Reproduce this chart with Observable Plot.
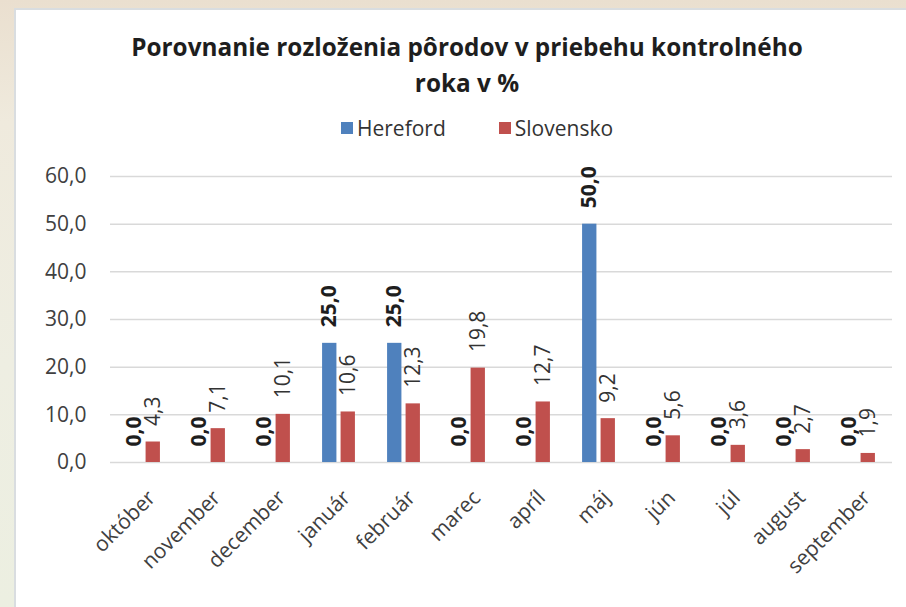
<!DOCTYPE html>
<html>
<head>
<meta charset="utf-8">
<script src="https://cdn.jsdelivr.net/npm/d3@7"></script>
<script src="https://cdn.jsdelivr.net/npm/@observablehq/plot@0.6"></script>
<style>
  html, body { margin: 0; padding: 0; }
  body {
    width: 906px; height: 607px; overflow: hidden; position: relative;
    background: linear-gradient(180deg, #eadfcf 0%, #efeadd 20%, #eeeee2 60%, #ecefe1 100%);
    font-family: "Open Sans", Lato, sans-serif;
  }
  #panel {
    position: absolute; left: 14px; top: 8px; width: 900px; height: 610px;
    background: #fff; border-left: 2px solid #d9dde0; border-top: 2px solid #d9dde0;
  }
  #title {
    position: absolute; left: 16px; width: 902px; top: 29px;
    text-align: center; font-weight: bold; font-size: 25px; line-height: 36px; color: #1e1e1e;
    white-space: nowrap;
  }
  #legend {
    position: absolute; left: 341px; top: 114px; height: 28px;
    display: flex; align-items: center; font-size: 21px; color: #333;
  }
  #legend .sw { width: 12px; height: 12px; margin-right: 4px; }
  #legend .item { display: flex; align-items: center; margin-right: 53px; }
  #chart { position: absolute; left: 16px; top: 150px; }
</style>
</head>
<body>
<div id="panel"></div>
<div id="title">Porovnanie rozloženia pôrodov v priebehu kontrolného<br>roka v %</div>
<div id="legend"></div>
<div id="chart"></div>
<script>
const months = ["október","november","december","január","február","marec","apríl","máj","jún","júl","august","september"];
const hereford = [0,0,0,25,25,0,0,50,0,0,0,0];
const slovensko = [4.3,7.1,10.1,10.6,12.3,19.8,12.7,9.2,5.6,3.6,2.7,1.9];
const seriesNames = ["Hereford","Slovensko"];
const seriesColors = ["#4f81bd","#c0504d"];
const yTicks = [0,10,20,30,40,50,60];

const fmt = v => v.toFixed(1).replace(".", ",");

// fit title line 1 to the reference width
(function () {
  const c = document.createElement("canvas").getContext("2d");
  c.font = "bold 100px 'Open Sans'";
  const w = c.measureText("Porovnanie rozloženia pôrodov v priebehu kontrolného").width;
  if (w > 0) {
    const fs = Math.min(27, 100 * 672 / w);
    const t = document.getElementById("title");
    t.style.fontSize = fs + "px";
  }
})();

const legend = document.getElementById("legend");
seriesNames.forEach((n, i) => {
  const it = document.createElement("div");
  it.className = "item";
  it.innerHTML = `<div class="sw" style="background:${seriesColors[i]}"></div><span>${n}</span>`;
  legend.appendChild(it);
});

const W = 890, H = 457, mL = 94, mR = 14, mT = 26, mB = 145;
const bw = (W - mL - mR) / months.length;
const half = bw / 2;
const barW = 14.5, gap = 4;

const hData = months.map((m, i) => ({month: m, value: hereford[i]}));
const sData = months.map((m, i) => ({month: m, value: slovensko[i]}));

const chart = Plot.plot({
  width: W, height: H,
  marginLeft: mL, marginRight: mR, marginTop: mT, marginBottom: mB,
  style: {fontFamily: "'Open Sans', Lato, sans-serif", fontSize: "21px", color: "#404040", background: "transparent", overflow: "visible"},
  x: {domain: months, padding: 0, label: null, axis: null},
  y: {domain: [0, 60], ticks: yTicks, tickFormat: fmt, label: null, tickSize: 0, tickPadding: 24},
  marks: [
    Plot.ruleY(yTicks, {stroke: "#d9d9d9", strokeWidth: 1.5}),
    Plot.barY(hData, {x: "month", y: "value", fill: seriesColors[0],
      insetLeft: half - gap / 2 - barW, insetRight: half + gap / 2}),
    Plot.barY(sData, {x: "month", y: "value", fill: seriesColors[1],
      insetLeft: half + gap / 2, insetRight: half - gap / 2 - barW}),
    Plot.text(hData, {x: "month", y: "value", text: d => fmt(d.value), rotate: -90,
      textAnchor: "start", dx: -(gap / 2 + barW / 2), dy: -16, fontWeight: "bold", fill: "#1e1e1e", fontSize: 21}),
    Plot.text(sData, {x: "month", y: "value", text: d => fmt(d.value), rotate: -90,
      textAnchor: "start", dx: gap / 2 + barW / 2, dy: -16, fill: "#333", fontSize: 21}),
    Plot.text(months, {x: d => d, y: 0, text: d => d, rotate: -45, textAnchor: "end",
      lineAnchor: "top", dx: 2, dy: 26, fill: "#404040", fontSize: 21})
  ]
});
document.getElementById("chart").appendChild(chart);
</script>
</body>
</html>
